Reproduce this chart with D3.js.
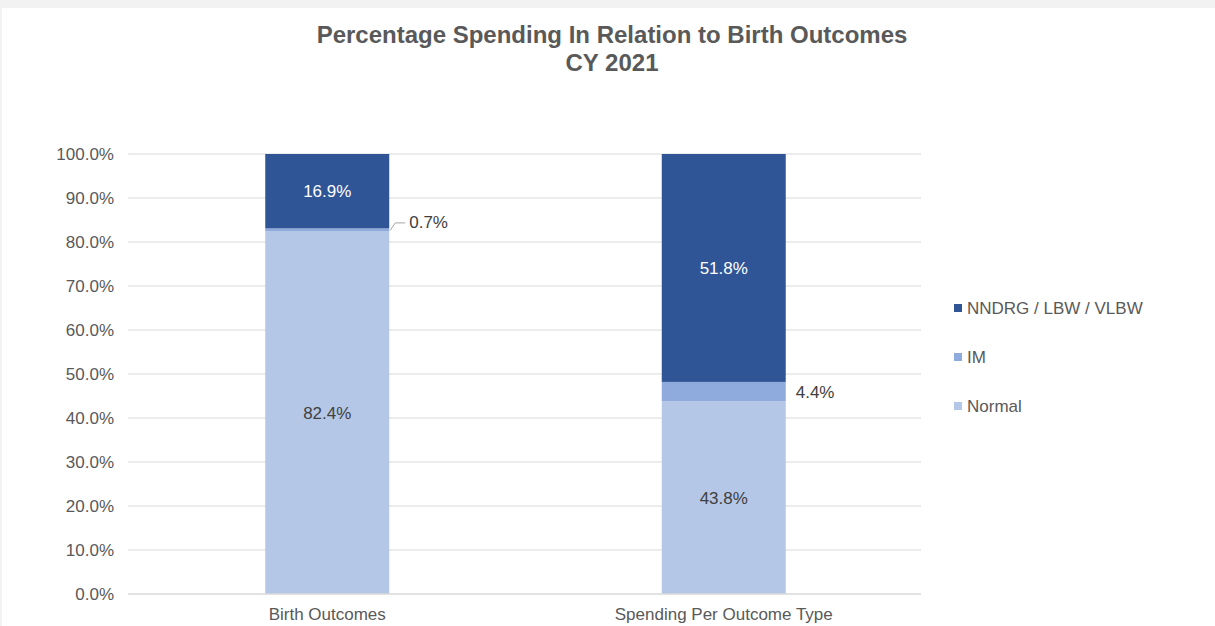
<!DOCTYPE html>
<html><head><meta charset="utf-8">
<script src="https://cdn.jsdelivr.net/npm/d3@7"></script>
<style>
html,body{margin:0;padding:0;background:#f2f2f2;}
svg{display:block;font-family:"Liberation Sans",Arial,sans-serif;}
</style></head>
<body><svg id="c" width="1215" height="626"></svg>
<script>
const categories = ["Birth Outcomes", "Spending Per Outcome Type"];
const seriesNames = ["Normal", "IM", "NNDRG / LBW / VLBW"];
const normalValues = [82.4, 43.8];
const imValues = [0.7, 4.4];
const nndrgValues = [16.9, 51.8];
const yTicks = [0,10,20,30,40,50,60,70,80,90,100];
const titleLines = ["Percentage Spending In Relation to Birth Outcomes", "CY 2021"];
const colors = ["#b4c7e7", "#8faadc", "#2f5597"];

const FS = "17px";
const svg = d3.select("#c");
svg.append("rect").attr("x",2).attr("y",8).attr("width",1213).attr("height",618).attr("fill","#fff");

const x = d3.scaleBand().domain(categories).range([129, 922]).paddingInner(0.6873).paddingOuter(0.34365);
const y = d3.scaleLinear().domain([0,100]).range([594,154]);

const rows = categories.map((c,i)=>({cat:c, Normal:normalValues[i], IM:imValues[i], "NNDRG / LBW / VLBW":nndrgValues[i]}));
const stack = d3.stack().keys(seriesNames)(rows);

// grid
svg.append("g").selectAll("line").data(yTicks.filter(d=>d>0)).join("line")
  .attr("x1",128).attr("x2",921).attr("y1",d=>y(d)).attr("y2",d=>y(d))
  .attr("stroke","#d9d9d9").attr("stroke-width",1);

// y axis labels
const yAxis = d3.axisLeft(y).tickValues(yTicks).tickFormat(d=>d.toFixed(1)+"%").tickSize(0).tickPadding(14);
const ya = svg.append("g").attr("transform","translate(128,0)").call(yAxis);
ya.select(".domain").remove();
ya.selectAll("text").attr("fill","#595959").style("font-size",FS).style("font-family","Liberation Sans, Arial, sans-serif");

// bars
svg.append("g").selectAll("g").data(stack).join("g").attr("fill",(d,i)=>colors[i])
  .selectAll("rect").data(d=>d).join("rect")
  .attr("x",d=>x(d.data.cat)).attr("width",x.bandwidth())
  .attr("y",d=>y(d[1])).attr("height",d=>y(d[0])-y(d[1]));

// bottom axis
const xAxis = d3.axisBottom(x).tickSize(0).tickPadding(14);
const xa = svg.append("g").attr("transform","translate(0,594)").call(xAxis);
xa.select(".domain").attr("stroke","#d9d9d9").attr("stroke-width",1.5).attr("d","M128,0H921");
xa.selectAll("text").attr("fill","#595959").style("font-size",FS).style("font-family","Liberation Sans, Arial, sans-serif");

// data labels
const lbl = svg.append("g").style("font-size",FS);
stack.forEach((s,si)=>{
  s.forEach((d,ci)=>{
    const v = d[1]-d[0];
    const mid = y((d[0]+d[1])/2);
    const txt = v.toFixed(1)+"%";
    if (si===1){
      const xr = x(d.data.cat)+x.bandwidth();
      if (v < 2){
        lbl.append("path").attr("d",`M${xr+1},${mid+0.5}L${xr+6},${mid-7}H${xr+16}`)
          .attr("fill","none").attr("stroke","#a6a6a6").attr("stroke-width",1);
        lbl.append("text").attr("x",xr+20).attr("y",mid-8).attr("dy","0.35em").attr("fill","#404040").text(txt);
      } else {
        lbl.append("text").attr("x",xr+10).attr("y",mid).attr("dy","0.35em").attr("fill","#404040").text(txt);
      }
    } else {
      lbl.append("text").attr("x",x(d.data.cat)+x.bandwidth()/2).attr("y",mid).attr("dy","0.35em")
        .attr("text-anchor","middle").attr("fill",si===2?"#ffffff":"#404040").text(txt);
    }
  });
});

// title
svg.append("g").selectAll("text").data(titleLines).join("text")
  .attr("x",612).attr("y",(d,i)=>35+i*28).attr("dy","0.35em").attr("text-anchor","middle")
  .attr("fill","#595959").style("font-size","24px").style("font-weight","bold").text(d=>d);

// legend
const legendOrder = ["NNDRG / LBW / VLBW","IM","Normal"];
const lg = svg.append("g").selectAll("g").data(legendOrder).join("g")
  .attr("transform",(d,i)=>`translate(954,${308+i*49})`);
lg.append("rect").attr("x",0).attr("y",-4).attr("width",8).attr("height",8).attr("fill",d=>colors[seriesNames.indexOf(d)]);
lg.append("text").attr("x",13).attr("y",0).attr("dy","0.35em").attr("fill","#595959").style("font-size",FS).text(d=>d);
</script></body></html>
